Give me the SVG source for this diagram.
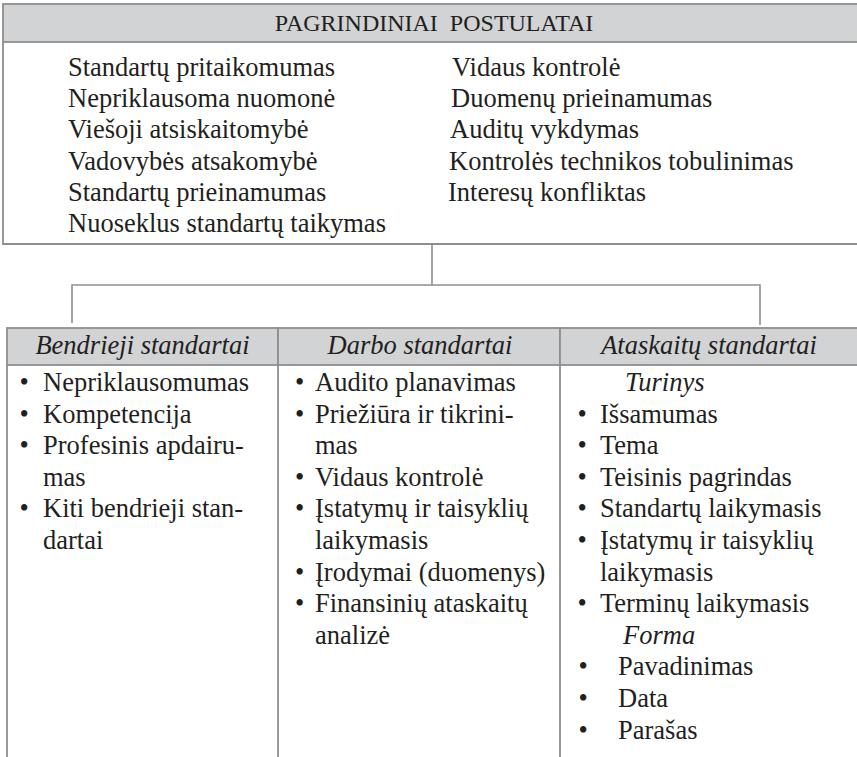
<svg xmlns="http://www.w3.org/2000/svg" width="857" height="757" viewBox="0 0 857 757">
  <style>
    .bg { fill: #ffffff; }
    .box { fill: none; stroke: #8e8e8e; stroke-width: 1.8; }
    .band { fill: #d1d3d4; stroke: #8e8e8e; stroke-width: 1.8; }
    .rule { fill: none; stroke: #8e8e8e; stroke-width: 1.8; }
    .wire { fill: none; stroke: #8e8e8e; stroke-width: 1.6; }
    text { font-family: "Liberation Serif", "Times New Roman", serif; fill: #231f20; }
    .t { font-size: 26.5px; }
    .h { font-size: 24px; }
    .i { font-size: 26.5px; font-style: italic; }
    .mid { text-anchor: middle; }
  </style>

  <rect class="bg" x="0" y="0" width="857" height="757"/>

  <!-- Top block: basic postulates -->
  <g id="postulatai">
    <rect class="band" x="3" y="4" width="900" height="38"/>
    <path class="box" d="M3,42 V244 H903"/>
    <text class="h mid" x="434" y="31" xml:space="preserve">PAGRINDINIAI  POSTULATAI</text>
    <text class="t" x="68" y="76">Standartų pritaikomumas</text>
    <text class="t" x="68" y="107.2">Nepriklausoma nuomonė</text>
    <text class="t" x="68" y="138.4">Viešoji atsiskaitomybė</text>
    <text class="t" x="68" y="169.6">Vadovybės atsakomybė</text>
    <text class="t" x="68" y="200.8">Standartų prieinamumas</text>
    <text class="t" x="68" y="232">Nuoseklus standartų taikymas</text>
    <text class="t" x="452" y="76">Vidaus kontrolė</text>
    <text class="t" x="451" y="107.2">Duomenų prieinamumas</text>
    <text class="t" x="450" y="138.4">Auditų vykdymas</text>
    <text class="t" x="449" y="169.6">Kontrolės technikos tobulinimas</text>
    <text class="t" x="448" y="200.8">Interesų konfliktas</text>
  </g>

  <!-- Connectors from the postulates to the three standard groups -->
  <g id="connectors">
    <path class="wire" d="M432,244 V285"/>
    <path class="wire" d="M72,323 V285 H760 V325"/>
  </g>

  <!-- General standards -->
  <g id="bendrieji">
    <rect class="band" x="7" y="328" width="271" height="37"/>
    <path class="rule" d="M7,365 V757"/>
    <text class="i mid" x="142.5" y="354">Bendrieji standartai</text>
    <text class="t" x="19.5" y="391">•</text><text class="t" x="43" y="391">Nepriklausomumas</text>
    <text class="t" x="19.5" y="422.6">•</text><text class="t" x="43" y="422.6">Kompetencija</text>
    <text class="t" x="19.5" y="454.2">•</text><text class="t" x="43" y="454.2">Profesinis apdairu-</text>
    <text class="t" x="43" y="485.8">mas</text>
    <text class="t" x="19.5" y="517.4">•</text><text class="t" x="43" y="517.4">Kiti bendrieji stan-</text>
    <text class="t" x="43" y="549">dartai</text>
  </g>

  <!-- Fieldwork standards -->
  <g id="darbo">
    <rect class="band" x="278" y="328" width="282" height="37"/>
    <path class="rule" d="M278,365 V757"/>
    <text class="i mid" x="420" y="354">Darbo standartai</text>
    <text class="t" x="295" y="391">•</text><text class="t" x="315" y="391">Audito planavimas</text>
    <text class="t" x="295" y="422.6">•</text><text class="t" x="315" y="422.6">Priežiūra ir tikrini-</text>
    <text class="t" x="315" y="454.2">mas</text>
    <text class="t" x="295" y="485.8">•</text><text class="t" x="315" y="485.8">Vidaus kontrolė</text>
    <text class="t" x="295" y="517.4">•</text><text class="t" x="315" y="517.4">Įstatymų ir taisyklių</text>
    <text class="t" x="315" y="549">laikymasis</text>
    <text class="t" x="295" y="580.6">•</text><text class="t" x="315" y="580.6">Įrodymai (duomenys)</text>
    <text class="t" x="295" y="612.2">•</text><text class="t" x="315" y="612.2">Finansinių ataskaitų</text>
    <text class="t" x="315" y="643.8">analizė</text>
  </g>

  <!-- Reporting standards -->
  <g id="ataskaitu">
    <rect class="band" x="560" y="328" width="343" height="37"/>
    <path class="rule" d="M560,365 V757"/>
    <text class="i mid" x="709" y="354">Ataskaitų standartai</text>
    <text class="i" x="625" y="391">Turinys</text>
    <text class="t" x="577.5" y="422.6">•</text><text class="t" x="600" y="422.6">Išsamumas</text>
    <text class="t" x="577.5" y="454.2">•</text><text class="t" x="600" y="454.2">Tema</text>
    <text class="t" x="577.5" y="485.8">•</text><text class="t" x="600" y="485.8">Teisinis pagrindas</text>
    <text class="t" x="577.5" y="517.4">•</text><text class="t" x="600" y="517.4">Standartų laikymasis</text>
    <text class="t" x="577.5" y="549">•</text><text class="t" x="600" y="549">Įstatymų ir taisyklių</text>
    <text class="t" x="600" y="580.6">laikymasis</text>
    <text class="t" x="577.5" y="612.2">•</text><text class="t" x="600" y="612.2">Terminų laikymasis</text>
    <text class="i" x="623" y="643.8">Forma</text>
    <text class="t" x="578.5" y="675.4">•</text><text class="t" x="618" y="675.4">Pavadinimas</text>
    <text class="t" x="578.5" y="707">•</text><text class="t" x="618" y="707">Data</text>
    <text class="t" x="578.5" y="738.6">•</text><text class="t" x="618" y="738.6">Parašas</text>
  </g>
</svg>
